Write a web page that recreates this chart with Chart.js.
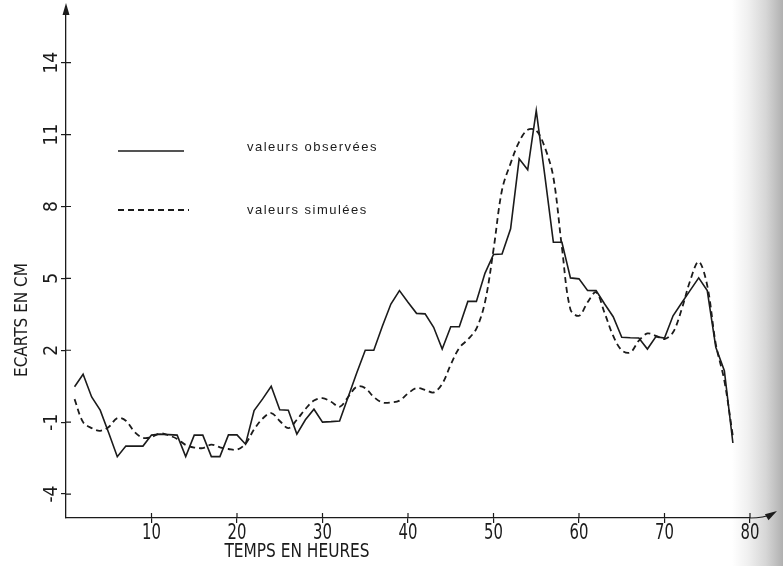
<!DOCTYPE html>
<html>
<head>
<meta charset="utf-8">
<script src="https://cdn.jsdelivr.net/npm/chart.js@4.4.0/dist/chart.umd.min.js"></script>
<style>
html, body { margin: 0; padding: 0; }
body {
    width: 783px; height: 566px; overflow: hidden;
    background: linear-gradient(to right, #fff 0px, #fff 732px, #f0f0f0 748px, #d6d6d6 766px, #b0b0b0 783px);
}
canvas { display: block; }
</style>
</head>
<body>
<canvas id="chart" width="783" height="566"></canvas>
<script>
// data (hours, deviation in cm)
const hours = [1, 2, 3, 4, 5, 6, 7, 8, 9, 10, 11, 12, 13, 14, 15, 16, 17, 18, 19, 20,
    21, 22, 23, 24, 25, 26, 27, 28, 29, 30, 31, 32, 33, 34, 35, 36, 37, 38, 39, 40,
    41, 42, 43, 44, 45, 46, 47, 48, 49, 50, 51, 52, 53, 54, 55, 56, 57, 58, 59, 60,
    61, 62, 63, 64, 65, 66, 67, 68, 69, 70, 71, 72, 73, 74, 75, 76, 77, 78];

const observed = [0.48, 1.0, 0.05, -0.5, -1.45, -2.44, -2.0, -2.0, -2.0, -1.54,
    -1.5, -1.52, -1.54, -2.44, -1.54, -1.54, -2.44, -2.44, -1.53, -1.53,
    -1.92, -0.52, -0.03, 0.5, -0.48, -0.5, -1.5, -0.9, -0.46, -1.0,
    -0.98, -0.95, 0.05, 1.05, 2.0, 2.0, 3.0, 3.93, 4.49, 4.0,
    3.54, 3.52, 2.96, 2.05, 2.98, 2.98, 4.04, 4.04, 5.21, 6.0,
    6.02, 7.07, 9.99, 9.53, 12.0, 9.3, 6.51, 6.51, 5.02, 4.98,
    4.5, 4.49, 3.93, 3.4, 2.54, 2.52, 2.51, 2.05, 2.57, 2.51,
    3.44, 3.97, 4.5, 5.02, 4.49, 2.12, 1.15, -1.87];

const simulated = [-0.04, -1.0, -1.25, -1.36, -1.2, -0.83, -0.94, -1.4, -1.65, -1.62,
    -1.47, -1.55, -1.7, -1.95, -2.06, -2.08, -1.94, -2.05, -2.12, -2.15,
    -1.9, -1.3, -0.85, -0.62, -0.95, -1.25, -0.9, -0.45, -0.1, 0.0,
    -0.15, -0.36, 0.05, 0.48, 0.42, 0.05, -0.18, -0.18, -0.1, 0.2,
    0.42, 0.35, 0.24, 0.6, 1.4, 2.1, 2.45, 2.9, 4.0, 6.2,
    8.7, 9.8, 10.7, 11.2, 11.17, 10.47, 9.22, 6.3, 3.7, 3.44,
    4.0, 4.42, 3.55, 2.6, 2.0, 1.91, 2.4, 2.7, 2.6, 2.47,
    2.75, 3.7, 4.9, 5.7, 4.7, 2.26, 0.73, -1.6];

const xTicks = [10, 20, 30, 40, 50, 60, 70, 80];
const yTicks = [-4, -1, 2, 5, 8, 11, 14];

const seriesLabels = ['valeurs observées', 'valeurs simulées'];
const xTitle = 'TEMPS EN HEURES';
const yTitle = 'ECARTS EN CM';

const ink = '#1b1b1b';
const narrow = '"Liberation Sans Narrow", "DejaVu Sans Condensed", sans-serif';

function toPoints(values) {
    return hours.map((h, i) => ({ x: h, y: values[i] }));
}

// axes decorations, rotated labels, titles and the legend
const decor = {
    id: 'decor',
    afterDraw(chart) {
        const ctx = chart.ctx;
        const xs = chart.scales.x;
        const ys = chart.scales.y;
        const a = chart.chartArea;
        ctx.save();
        ctx.strokeStyle = ink;
        ctx.fillStyle = ink;
        ctx.lineWidth = 1.2;

        // inner half of the tick crosses
        ctx.beginPath();
        xs.ticks.forEach(t => {
            const p = xs.getPixelForValue(t.value);
            ctx.moveTo(p, a.bottom);
            ctx.lineTo(p, a.bottom - 5);
        });
        ys.ticks.forEach(t => {
            const p = ys.getPixelForValue(t.value);
            ctx.moveTo(a.left, p);
            ctx.lineTo(a.left + 5, p);
        });
        ctx.stroke();

        // arrow on the y axis
        ctx.beginPath();
        ctx.moveTo(a.left, a.top);
        ctx.lineTo(a.left, 8);
        ctx.stroke();
        ctx.beginPath();
        ctx.moveTo(a.left, 3);
        ctx.lineTo(a.left - 3.5, 15);
        ctx.lineTo(a.left + 3.5, 15);
        ctx.closePath();
        ctx.fill();

        // curved arrow at the end of the x axis
        ctx.beginPath();
        ctx.moveTo(a.right, a.bottom);
        ctx.quadraticCurveTo(a.right + 14, a.bottom, a.right + 22, a.bottom - 4);
        ctx.stroke();
        ctx.save();
        ctx.translate(a.right + 27, a.bottom - 7);
        ctx.rotate(Math.atan2(-6, 10));
        ctx.beginPath();
        ctx.moveTo(0, 0);
        ctx.lineTo(-12, -3.5);
        ctx.lineTo(-12, 3.5);
        ctx.closePath();
        ctx.fill();
        ctx.restore();

        // x tick labels
        ctx.font = '22px ' + narrow;
        ctx.textAlign = 'center';
        ctx.textBaseline = 'alphabetic';
        xs.ticks.forEach(t => {
            ctx.save();
            ctx.translate(xs.getPixelForValue(t.value), 538.5);
            ctx.scale(0.75, 1);
            ctx.fillText(t.label, 0, 0);
            ctx.restore();
        });

        // y tick labels, rotated
        ctx.font = '19px ' + narrow;
        ys.ticks.forEach(t => {
            ctx.save();
            ctx.translate(57, ys.getPixelForValue(t.value));
            ctx.rotate(-Math.PI / 2);
            ctx.fillText(t.label, 0, 0);
            ctx.restore();
        });

        // axis titles
        ctx.font = '19px ' + narrow;
        ctx.save();
        ctx.translate(297, 557);
        ctx.scale(0.9, 1);
        ctx.fillText(xTitle, 0, 0);
        ctx.restore();

        ctx.font = '17px ' + narrow;
        ctx.save();
        ctx.translate(27, 320);
        ctx.rotate(-Math.PI / 2);
        ctx.fillText(yTitle, 0, 0);
        ctx.restore();

        // legend
        const rows = [{ y: 151, ty: 151 }, { y: 210, ty: 214 }];
        ctx.font = '13px "Liberation Sans", Arial, sans-serif';
        ctx.textAlign = 'left';
        ctx.letterSpacing = '1.5px';
        chart.data.datasets.forEach((ds, i) => {
            ctx.save();
            ctx.lineWidth = ds.borderWidth;
            ctx.setLineDash(ds.borderDash || []);
            ctx.beginPath();
            ctx.moveTo(118, rows[i].y);
            ctx.lineTo(i === 0 ? 184 : 189, rows[i].y);
            ctx.stroke();
            ctx.restore();
            ctx.fillText(ds.label, 247, rows[i].ty);
        });
        ctx.restore();
    }
};

new Chart(document.getElementById('chart'), {
    type: 'line',
    data: {
        datasets: [{
            label: seriesLabels[0],
            data: toPoints(observed),
            borderColor: ink,
            borderWidth: 1.6,
            pointRadius: 0,
            tension: 0,
            fill: false
        }, {
            label: seriesLabels[1],
            data: toPoints(simulated),
            borderColor: ink,
            borderWidth: 1.8,
            borderDash: [6, 4],
            pointRadius: 0,
            tension: 0.35,
            fill: false
        }]
    },
    options: {
        responsive: false,
        animation: false,
        devicePixelRatio: 1,
        layout: { padding: { left: 0, right: 33, top: 10, bottom: 0 } },
        plugins: { legend: { display: false }, tooltip: { enabled: false } },
        scales: {
            x: {
                type: 'linear',
                min: 0,
                max: 80,
                afterBuildTicks: s => { s.ticks = xTicks.map(v => ({ value: v })); },
                afterFit: s => { s.height = 48; },
                grid: { drawOnChartArea: false, drawTicks: true, tickLength: 5, color: ink, lineWidth: 1.2 },
                border: { color: ink, width: 1.3 },
                ticks: { display: false, autoSkip: false }
            },
            y: {
                min: -5,
                max: 16.2,
                afterBuildTicks: s => { s.ticks = yTicks.map(v => ({ value: v })); },
                afterFit: s => { s.width = 66; },
                grid: { drawOnChartArea: false, drawTicks: true, tickLength: 5, color: ink, lineWidth: 1.2 },
                border: { color: ink, width: 1.3 },
                ticks: { display: false, autoSkip: false }
            }
        }
    },
    plugins: [decor]
});
</script>
</body>
</html>
